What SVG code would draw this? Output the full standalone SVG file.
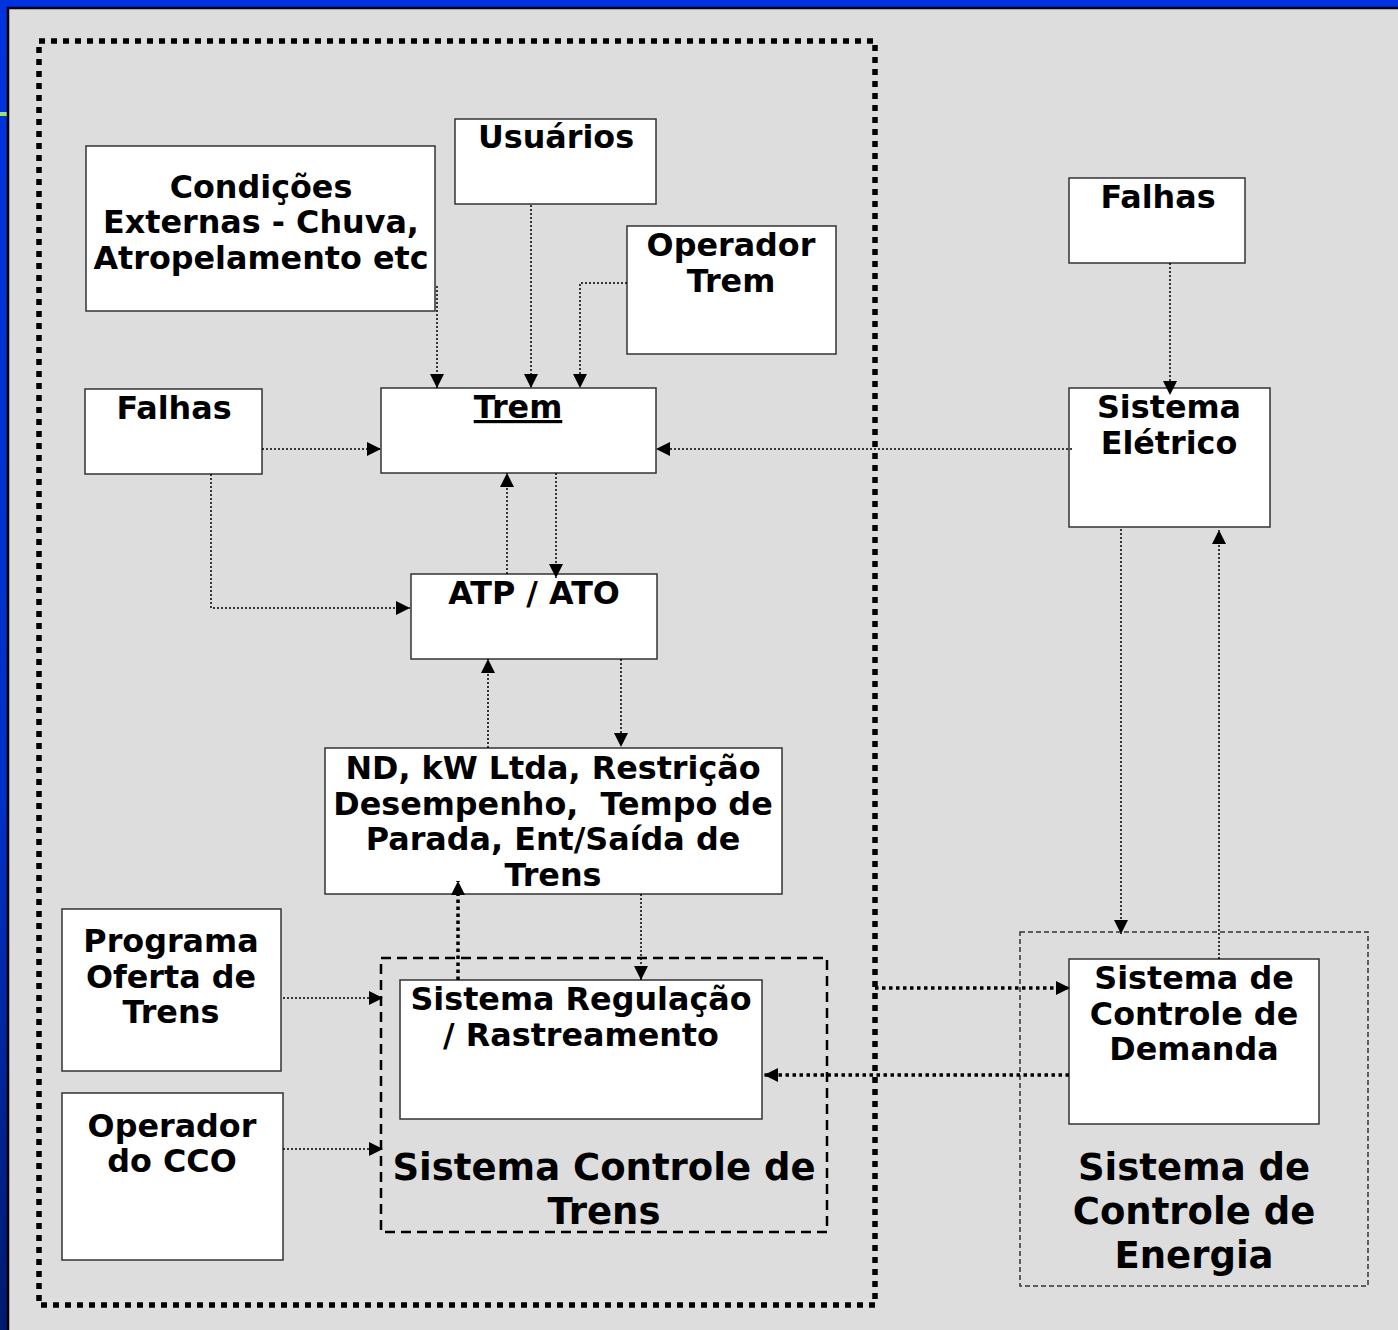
<svg xmlns="http://www.w3.org/2000/svg" width="1398" height="1330" viewBox="0 0 1398 1330">
<defs>
<linearGradient id="lb" x1="0" y1="0" x2="0" y2="1">
<stop offset="0" stop-color="#0033dd"/>
<stop offset="0.6" stop-color="#0030c8"/>
<stop offset="1" stop-color="#001a70"/>
</linearGradient>
<marker id="ah" viewBox="0 0 12 12" refX="12" refY="6" markerWidth="14" markerHeight="14" markerUnits="userSpaceOnUse" orient="auto">
<path d="M0,0 L12,6 L0,12 z" fill="#000"/>
</marker>
</defs>
<style>
.box{fill:#fff;stroke:#333;stroke-width:1.5}
.t{font-family:"DejaVu Sans","Verdana",sans-serif;font-weight:bold;font-size:31.8px;fill:#000;text-anchor:middle}
.big{font-size:37px}
.c{fill:none;stroke:#000;stroke-width:1.5;stroke-dasharray:2 2}
.ct{fill:none;stroke:#000;stroke-width:3.5;stroke-dasharray:3.5 3.5}
</style>
<rect x="0" y="0" width="1398" height="1330" fill="#dddddd"/>
<rect x="0" y="0" width="1398" height="7" fill="#0033dd"/>
<rect x="0" y="0" width="7" height="1330" fill="url(#lb)"/>
<rect x="0" y="112" width="7" height="4" fill="#99dd88"/>
<path d="M7,8 H1398 M8,7 V1330" stroke="#000" stroke-width="2.5" fill="none"/>
<rect x="39" y="41" width="836" height="1264" fill="none" stroke="#000" stroke-width="5.5" stroke-dasharray="6 6"/>

<g id="sct-group">
<rect x="381" y="958" width="446" height="274" fill="none" stroke="#000" stroke-width="2.5" stroke-dasharray="10 6"/>
<text class="t big" x="604" y="1180">Sistema Controle de</text>
<text class="t big" x="604" y="1224">Trens</text>
</g>
<g id="sce-group">
<rect x="1020" y="932" width="348" height="354" fill="none" stroke="#333" stroke-width="1.5" stroke-dasharray="5 3"/>
<text class="t big" x="1194" y="1180">Sistema de</text>
<text class="t big" x="1194" y="1224">Controle de</text>
<text class="t big" x="1194" y="1268">Energia</text>
</g>

<g id="condicoes">
<rect class="box" x="86" y="146" width="349" height="165"/>
<text class="t" x="261" y="198">Condições</text>
<text class="t" x="261" y="233">Externas - Chuva,</text>
<text class="t" x="261" y="269">Atropelamento etc</text>
</g>
<g id="usuarios">
<rect class="box" x="455" y="119" width="201" height="85"/>
<text class="t" x="556" y="148">Usuários</text>
</g>
<g id="operador-trem">
<rect class="box" x="627" y="226" width="209" height="128"/>
<text class="t" x="731" y="256">Operador</text>
<text class="t" x="731" y="292">Trem</text>
</g>
<g id="falhas1">
<rect class="box" x="85" y="389" width="177" height="85"/>
<text class="t" x="174" y="419">Falhas</text>
</g>
<g id="trem">
<rect class="box" x="381" y="388" width="275" height="85"/>
<text class="t" x="518" y="418" text-decoration="underline">Trem</text>
</g>
<g id="atp-ato">
<rect class="box" x="411" y="574" width="246" height="85"/>
<text class="t" x="534" y="604">ATP / ATO</text>
</g>
<g id="nd">
<rect class="box" x="325" y="748" width="457" height="146"/>
<text class="t" x="553" y="779">ND, kW Ltda, Restrição</text>
<text class="t" x="553" y="815" xml:space="preserve" style="white-space:pre">Desempenho,  Tempo de</text>
<text class="t" x="553" y="850">Parada, Ent/Saída de</text>
<text class="t" x="553" y="886">Trens</text>
</g>
<g id="programa">
<rect class="box" x="62" y="909" width="219" height="162"/>
<text class="t" x="171" y="952">Programa</text>
<text class="t" x="171" y="988">Oferta de</text>
<text class="t" x="171" y="1023">Trens</text>
</g>
<g id="operador-cco">
<rect class="box" x="62" y="1093" width="221" height="167"/>
<text class="t" x="172" y="1137">Operador</text>
<text class="t" x="172" y="1172">do CCO</text>
</g>
<g id="regulacao">
<rect class="box" x="400" y="980" width="362" height="139"/>
<text class="t" x="581" y="1010">Sistema Regulação</text>
<text class="t" x="581" y="1046">/ Rastreamento</text>
</g>
<g id="falhas2">
<rect class="box" x="1069" y="178" width="176" height="85"/>
<text class="t" x="1158" y="208">Falhas</text>
</g>
<g id="eletrico">
<rect class="box" x="1069" y="388" width="201" height="139"/>
<text class="t" x="1169" y="418">Sistema</text>
<text class="t" x="1169" y="454">Elétrico</text>
</g>
<g id="demanda">
<rect class="box" x="1069" y="959" width="250" height="165"/>
<text class="t" x="1194" y="989">Sistema de</text>
<text class="t" x="1194" y="1025">Controle de</text>
<text class="t" x="1194" y="1060">Demanda</text>
</g>

<g id="connectors">
<path class="c" d="M437,286 V388" marker-end="url(#ah)"/>
<path class="c" d="M531,205 V388" marker-end="url(#ah)"/>
<path class="c" d="M627,283 H580 V388" marker-end="url(#ah)"/>
<path class="c" d="M262,449 H381" marker-end="url(#ah)"/>
<path class="c" d="M211,474 V608 H410" marker-end="url(#ah)"/>
<path class="c" d="M1072,449 H656" marker-end="url(#ah)"/>
<path class="c" d="M507,574 V473" marker-end="url(#ah)"/>
<path class="c" d="M556,473 V578" marker-end="url(#ah)"/>
<path class="c" d="M488,748 V659" marker-end="url(#ah)"/>
<path class="c" d="M621,659 V747" marker-end="url(#ah)"/>
<path class="ct" d="M458,980 V881" marker-end="url(#ah)"/>
<path class="c" d="M641,894 V980" marker-end="url(#ah)"/>
<path class="c" d="M283,998 H383" marker-end="url(#ah)"/>
<path class="c" d="M283,1149 H383" marker-end="url(#ah)"/>
<path class="c" d="M1170,263 V395" marker-end="url(#ah)"/>
<path class="c" d="M1121,529 V934" marker-end="url(#ah)"/>
<path class="c" d="M1219,959 V530" marker-end="url(#ah)"/>
<path class="ct" d="M875,988 H1070" marker-end="url(#ah)"/>
<path class="ct" d="M1069,1075 H764" marker-end="url(#ah)"/>
</g>
</svg>
